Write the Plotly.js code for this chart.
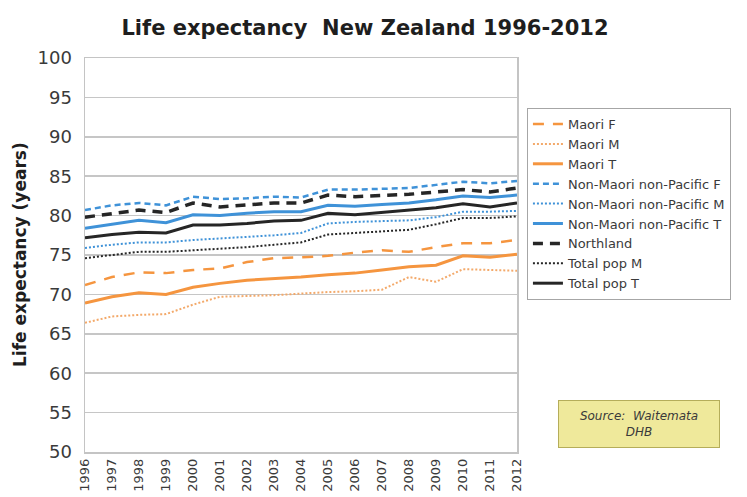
<!DOCTYPE html>
<html>
<head>
<meta charset="utf-8">
<script src="https://cdn.plot.ly/plotly-3.0.1.min.js"></script>
<style>
  html, body { margin: 0; padding: 0; background: #fff; }
  #chart { width: 747px; height: 497px; }
</style>
</head>
<body>
<div id="chart"></div>
<script>
// Period life expectancy by group, New Zealand
const years = ['1996','1997','1998','1999','2000','2001','2002','2003','2004','2005','2006','2007','2008','2009','2010','2011','2012'];

const maoriF    = [71.2, 72.2, 72.8, 72.7, 73.1, 73.3, 74.1, 74.6, 74.7, 74.9, 75.3, 75.6, 75.4, 76.0, 76.5, 76.5, 76.9];
const maoriM    = [66.4, 67.2, 67.4, 67.5, 68.7, 69.7, 69.8, 69.9, 70.1, 70.3, 70.4, 70.6, 72.2, 71.6, 73.2, 73.1, 73.0];
const maoriT    = [68.9, 69.7, 70.2, 70.0, 70.9, 71.4, 71.8, 72.0, 72.2, 72.5, 72.7, 73.1, 73.5, 73.7, 74.9, 74.7, 75.1];
const nmnpF     = [80.7, 81.3, 81.6, 81.3, 82.4, 82.1, 82.2, 82.4, 82.3, 83.3, 83.3, 83.4, 83.5, 83.9, 84.3, 84.1, 84.4];
const nmnpM     = [75.9, 76.3, 76.6, 76.6, 76.9, 77.1, 77.3, 77.5, 77.8, 79.0, 79.2, 79.3, 79.4, 79.8, 80.5, 80.5, 80.6];
const nmnpT     = [78.4, 78.9, 79.4, 79.1, 80.1, 80.0, 80.3, 80.5, 80.5, 81.3, 81.2, 81.4, 81.6, 82.0, 82.5, 82.3, 82.6];
const northland = [79.8, 80.3, 80.7, 80.4, 81.6, 81.1, 81.3, 81.6, 81.6, 82.6, 82.4, 82.5, 82.7, 83.0, 83.3, 83.0, 83.5];
const totalM    = [74.6, 75.0, 75.4, 75.4, 75.6, 75.8, 76.0, 76.3, 76.6, 77.6, 77.8, 78.0, 78.2, 78.9, 79.7, 79.7, 79.9];
const totalT    = [77.2, 77.6, 77.9, 77.8, 78.8, 78.8, 79.0, 79.3, 79.4, 80.3, 80.1, 80.4, 80.7, 81.0, 81.5, 81.1, 81.6];

const yTicks = [50, 55, 60, 65, 70, 75, 80, 85, 90, 95, 100];

const ORANGE = '#f5953f';
const ORANGE_LIGHT = '#f3a96a';
const BLUE = '#3f92d8';
const DARK = '#262626';
const FONT = 'DejaVu Sans, Verdana, sans-serif';

function series(name, y, color, width, dash) {
  return {
    type: 'scatter', mode: 'lines', name: name,
    x: years, y: y,
    line: { color: color, width: width, dash: dash },
    hoverinfo: 'skip'
  };
}

const data = [
  series('Maori F', maoriF, ORANGE, 2.5, '11px,9px'),
  series('Maori M', maoriM, ORANGE_LIGHT, 2, '2px,2px'),
  series('Maori T', maoriT, ORANGE, 3, 'solid'),
  series('Non-Maori non-Pacific F', nmnpF, BLUE, 2.5, '6px,4px'),
  series('Non-Maori non-Pacific M', nmnpM, BLUE, 2, '2px,2px'),
  series('Non-Maori non-Pacific T', nmnpT, BLUE, 3, 'solid'),
  series('Northland', northland, DARK, 3.5, '10px,7px'),
  series('Total pop M', totalM, DARK, 2, '2px,2px'),
  series('Total pop T', totalT, DARK, 3, 'solid')
];

const layout = {
  width: 747, height: 497,
  margin: { l: 85, r: 230, t: 58, b: 45 },
  paper_bgcolor: '#ffffff',
  plot_bgcolor: '#ffffff',
  font: { family: FONT, color: '#3a3a3a' },
  title: {
    text: '<b>Life expectancy  New Zealand 1996-2012</b>',
    font: { family: FONT, size: 21, color: '#1e1e1e' },
    x: 365 / 747, xref: 'container', xanchor: 'center',
    y: 1 - 28 / 497, yref: 'container', yanchor: 'middle'
  },
  xaxis: {
    type: 'category',
    range: [0, years.length - 1],
    tickangle: -90,
    tickfont: { family: FONT, size: 13, color: '#3a3a3a' },
    showgrid: false,
    showline: true, mirror: true, linecolor: '#c4c4c4', linewidth: 1.5,
    ticks: '', fixedrange: true
  },
  yaxis: {
    range: [50, 100],
    tickvals: yTicks,
    ticktext: yTicks.map(String),
    tickfont: { family: FONT, size: 18, color: '#3a3a3a' },
    ticks: 'outside', ticklen: 8, tickcolor: 'rgba(0,0,0,0)',
    showgrid: true, gridcolor: '#c6c6c6', gridwidth: 1.5,
    showline: true, mirror: true, linecolor: '#c4c4c4', linewidth: 1.5,
    zeroline: false, fixedrange: true
  },
  legend: {
    x: 1.023, xanchor: 'left',
    y: 0.873, yanchor: 'top',
    bgcolor: '#ffffff',
    bordercolor: '#a6a6a6', borderwidth: 1,
    font: { family: FONT, size: 13, color: '#3a3a3a' },
    tracegroupgap: 0,
    itemwidth: 30
  },
  annotations: [
    {
      text: '<b>Life expectancy (years)</b>',
      xref: 'paper', yref: 'paper',
      x: (20 - 85) / 432, y: 0.5,
      xanchor: 'center', yanchor: 'middle',
      textangle: -90, showarrow: false,
      font: { family: FONT, size: 17, color: '#1e1e1e' }
    },
    {
      text: '<i>Source:  Waitemata<br>DHB</i>',
      xref: 'paper', yref: 'paper',
      x: (639 - 85) / 432, y: (452 - 424) / 394,
      xanchor: 'center', yanchor: 'middle',
      showarrow: false,
      width: 158, height: 44,
      bgcolor: '#efe99b', bordercolor: '#b5ad5a', borderwidth: 1,
      font: { family: FONT, size: 12, color: '#3a3a3a' }
    }
  ]
};

Plotly.newPlot('chart', data, layout, { displayModeBar: false, staticPlot: true });
</script>
</body>
</html>
